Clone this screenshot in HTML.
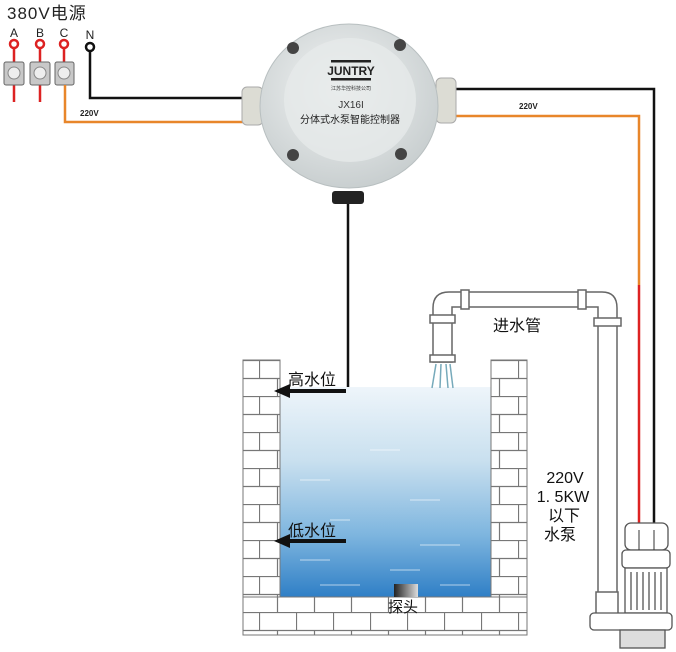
<!DOCTYPE html>
<html><head><meta charset="utf-8"><style>
html,body{margin:0;padding:0;background:#fff;}
svg{display:block;font-family:"Liberation Sans","Noto Sans CJK SC",sans-serif;}
</style></head><body>
<svg width="676" height="652" viewBox="0 0 676 652" xmlns="http://www.w3.org/2000/svg">
<defs>
<linearGradient id="water" x1="0" y1="0" x2="0" y2="1">
<stop offset="0" stop-color="#eef5fa"/>
<stop offset="0.35" stop-color="#c9e0ef"/>
<stop offset="0.7" stop-color="#7fb6df"/>
<stop offset="1" stop-color="#2f7fc6"/>
</linearGradient>
<radialGradient id="body" cx="0.45" cy="0.4" r="0.6">
<stop offset="0" stop-color="#f2f4f4"/>
<stop offset="1" stop-color="#c9cfd0"/>
</radialGradient>
<pattern id="brick" x="0" y="0" width="37" height="36" patternUnits="userSpaceOnUse">
<rect width="37" height="36" fill="#fff"/>
<path d="M0 0.5H37M0 18.5H37M0.5 0V18M18.5 18V36" stroke="#777" stroke-width="1.2" fill="none"/>
</pattern>
<linearGradient id="probe" x1="0" y1="0" x2="1" y2="0">
<stop offset="0" stop-color="#222"/><stop offset="1" stop-color="#ddd"/>
</linearGradient>
</defs>

<!-- title -->
<text x="7" y="19" font-size="17" fill="#222" letter-spacing="1">380V电源</text>
<!-- terminals -->
<g font-size="12" fill="#222" text-anchor="middle">
<text x="14" y="37">A</text><text x="40" y="37">B</text><text x="64" y="37">C</text><text x="90" y="39">N</text>
</g>
<g stroke="#d22" stroke-width="2.5" fill="none">
<circle cx="14" cy="44" r="4"/><circle cx="40" cy="44" r="4"/><circle cx="64" cy="44" r="4"/>
<path d="M14 48V62M40 48V62M64 48V62M14 85V102M40 85V102"/>
</g>
<g fill="#c8c8c8" stroke="#666" stroke-width="1">
<rect x="4" y="62" width="20" height="23" rx="2"/>
<rect x="30" y="62" width="20" height="23" rx="2"/>
<rect x="55" y="62" width="19" height="23" rx="2"/>
</g>
<g fill="#eee" stroke="#888"><circle cx="14" cy="73" r="6"/><circle cx="40" cy="73" r="6"/><circle cx="64" cy="73" r="6"/></g>
<circle cx="90" cy="47" r="4" fill="none" stroke="#111" stroke-width="2.5"/>
<path d="M90 51V98H245" stroke="#111" stroke-width="2.5" fill="none"/>
<path d="M65 85V122H245" stroke="#e8862a" stroke-width="2.5" fill="none"/>
<text x="80" y="116" font-size="8" font-weight="bold" fill="#222">220V</text>

<!-- right wires -->
<path d="M456 89H654V530" stroke="#111" stroke-width="2.5" fill="none"/>
<path d="M456 116H639V285" stroke="#e8862a" stroke-width="2.5" fill="none"/>
<path d="M639 285V530" stroke="#d22" stroke-width="2.5" fill="none"/>
<text x="519" y="109" font-size="8" font-weight="bold" fill="#222">220V</text>

<!-- probe wire -->
<path d="M348 200V592H395" stroke="#111" stroke-width="2.5" fill="none"/>

<!-- controller -->
<rect x="242" y="87" width="21" height="38" rx="5" fill="#dcdcd4" stroke="#aaa"/>
<rect x="436" y="78" width="20" height="45" rx="5" fill="#dcdcd4" stroke="#aaa"/>
<ellipse cx="349" cy="106" rx="89" ry="82" fill="url(#body)" stroke="#b8bfc0"/>
<ellipse cx="350" cy="100" rx="66" ry="62" fill="#e6eaea" opacity="0.8"/>
<g fill="#444"><circle cx="293" cy="48" r="6"/><circle cx="400" cy="45" r="6"/><circle cx="293" cy="155" r="6"/><circle cx="401" cy="154" r="6"/></g>
<rect x="332" y="191" width="32" height="13" rx="3" fill="#222"/>
<rect x="331" y="60" width="40" height="2.5" fill="#222"/>
<rect x="331" y="78" width="40" height="2.5" fill="#222"/>
<text x="351" y="75" font-size="12" font-weight="bold" text-anchor="middle" fill="#222">JUNTRY</text>
<text x="351" y="90" font-size="5" text-anchor="middle" fill="#333">江苏华控科技公司</text>
<text x="351" y="108" font-size="10" text-anchor="middle" fill="#333">JX16I</text>
<text x="350" y="123" font-size="10" text-anchor="middle" fill="#222">分体式水泵智能控制器</text>

<!-- tank -->
<rect x="280" y="387" width="211" height="210" fill="url(#water)"/>
<g stroke="#fff" stroke-width="1" opacity="0.6">
<path d="M370 450H400M300 480H330M410 500H440M330 520H350M420 545H460M300 560H330M390 570H420M320 585H360M440 585H470"/>
</g>
<rect x="243" y="360" width="37" height="237" fill="url(#brick)" stroke="#777"/>
<rect x="491" y="360" width="36" height="237" fill="url(#brick)" stroke="#777"/>
<rect x="243" y="597" width="284" height="38" fill="url(#brick)" stroke="#777"/>
<rect x="394" y="584" width="24" height="13" fill="url(#probe)"/>
<text x="388" y="612" font-size="15" fill="#111">探头</text>

<!-- level arrows -->
<path d="M346 391H285" stroke="#111" stroke-width="4"/>
<path d="M274 391L290 384V398Z" fill="#111"/>
<text x="288" y="385" font-size="16" fill="#111">高水位</text>
<path d="M346 541H285" stroke="#111" stroke-width="4"/>
<path d="M274 541L290 534V548Z" fill="#111"/>
<text x="288" y="536" font-size="16" fill="#111">低水位</text>

<!-- pipes -->
<g fill="#fff" stroke="#666" stroke-width="1.5">
<path d="M433 362V308Q433 292 449 292H602Q617 292 617 308V613H598V307H452V362Z"/>
<rect x="430" y="315" width="25" height="8"/>
<rect x="430" y="355" width="25" height="7"/>
<rect x="594" y="318" width="27" height="8"/>
<rect x="461" y="290" width="8" height="19"/>
<rect x="578" y="290" width="8" height="19"/>
<rect x="596" y="592" width="22" height="22"/>
</g>
<g stroke="#7ab" stroke-width="1.5" fill="none"><path d="M436 364L432 388M441 364L440 388M446 364L448 388M450 364L453 388"/></g>
<text x="493" y="331" font-size="16" fill="#111">进水管</text>
<g font-size="16" fill="#111" text-anchor="middle">
<text x="565" y="483">220V</text>
<text x="563" y="502">1. 5KW</text>
<text x="564" y="521">以下</text>
<text x="560" y="540">水泵</text>
</g>

<!-- pump -->
<g fill="#fff" stroke="#555" stroke-width="1.3">
<rect x="625" y="523" width="43" height="27" rx="6"/>
<rect x="622" y="550" width="48" height="18" rx="4"/>
<rect x="625" y="568" width="42" height="45"/>
<path d="M631 572V610M637 572V610M643 572V610M649 572V610M655 572V610M661 572V610"/>
<rect x="590" y="613" width="82" height="17" rx="4"/>
<rect x="620" y="630" width="45" height="18" fill="#ddd"/>
</g>
<path d="M639 530V550M654 530V550" stroke="#333" stroke-width="1"/>
</svg>
</body></html>
